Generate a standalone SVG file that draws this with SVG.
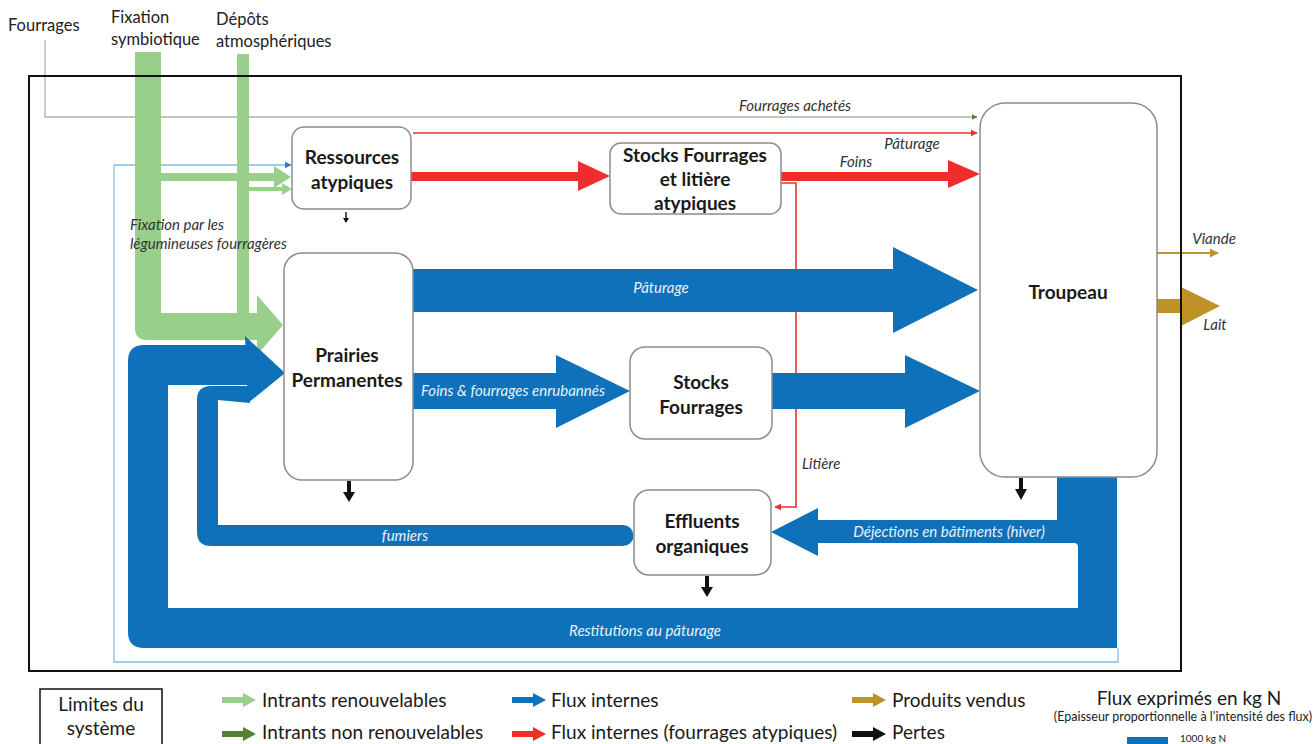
<svg xmlns="http://www.w3.org/2000/svg" width="1314" height="744" viewBox="0 0 1314 744">
<style>
.node{fill:#fff;stroke:#8c8c8c;stroke-width:1.5}
.nt{font-family:Lato,"Liberation Sans",sans-serif;font-weight:bold;font-size:19px;fill:#1a1a1a;text-anchor:middle}
.lb{font-family:Lato,"Liberation Sans",sans-serif;font-style:italic;font-size:15px;fill:#333}
.lw{font-family:Lato,"Liberation Sans",sans-serif;font-style:italic;font-size:15px;fill:#e8f1fa;text-anchor:middle}
.tp{font-family:Lato,"Liberation Sans",sans-serif;font-size:16.5px;fill:#222}
.lg{font-family:Lato,"Liberation Sans",sans-serif;font-size:19px;fill:#1a1a1a}
.blue{fill:#0f71b9}
.green{fill:#98cf8b}
.red{fill:#ef2d2d}
.gold{fill:#bf9228}
</style>
<defs>
<marker id="mg" viewBox="0 0 10 10" refX="9" refY="5" markerWidth="6" markerHeight="6" orient="auto" markerUnits="userSpaceOnUse"><path d="M0,0 L10,5 L0,10 Z" fill="#548235"/></marker>
<marker id="mr" viewBox="0 0 10 10" refX="9" refY="5" markerWidth="7" markerHeight="7" orient="auto" markerUnits="userSpaceOnUse"><path d="M0,0 L10,5 L0,10 Z" fill="#ef2d2d"/></marker>
<marker id="mb" viewBox="0 0 10 10" refX="9" refY="5" markerWidth="7" markerHeight="7" orient="auto" markerUnits="userSpaceOnUse"><path d="M0,0 L10,5 L0,10 Z" fill="#2e7dc4"/></marker>
<marker id="mo" viewBox="0 0 10 10" refX="9" refY="5" markerWidth="9" markerHeight="9" orient="auto" markerUnits="userSpaceOnUse"><path d="M0,0 L10,5 L0,10 Z" fill="#bf9228"/></marker>
<path id="la" d="M0,-3 H21 V-7 L34,0 L21,7 V3 H0 Z"/>
</defs>

<!-- top labels -->
<text class="tp" x="8" y="31">Fourrages</text>
<text class="tp" x="111" y="23">Fixation</text>
<text class="tp" x="111" y="45">symbiotique</text>
<text class="tp" x="216" y="25">Dépôts</text>
<text class="tp" x="216" y="47">atmosphériques</text>

<g id="connectors">
  <!-- Fourrages achetés -->
  <polyline points="45,40 45,117 977,117" fill="none" stroke="#a3bd9f" stroke-width="1.3" marker-end="url(#mg)"/>
  <text class="lb" x="795" y="111" text-anchor="middle">Fourrages achetés</text>

  <!-- thin blue system line -->
  <polyline points="1118,648 1118,662 114,662 114,165 291,165" fill="none" stroke="#7fbde8" stroke-width="1.3" marker-end="url(#mb)"/>

  <!-- green inputs -->
  <path class="green" d="M135,52 H161 V313 H237 V54 H249 V313 H257 V295 L283,325 L257,355 V340 H147 Q135,340 135,328 Z"/>
  <path class="green" d="M161,173 H274 V166 L291,177 L274,188 V181 H161 Z"/>
  <path class="green" d="M249,187 H282 V183 L292,189 L282,195 V191 H249 Z"/>
  <text class="lb" x="130" y="230">Fixation par les</text>
  <text class="lb" x="130" y="249">légumineuses fourragères</text>

  <!-- red flows -->
  <line x1="413" y1="133" x2="977" y2="133" stroke="#ef2d2d" stroke-width="1.6" marker-end="url(#mr)"/>
  <text class="lb" x="912" y="149" text-anchor="middle">Pâturage</text>
  <path class="red" d="M411,172 H578 V161 L610,176 L578,191 V181 H411 Z"/>
  <path class="red" d="M781,172 H948 V160 L980,174 L948,188 V181 H781 Z"/>
  <text class="lb" x="856" y="167" text-anchor="middle">Foins</text>
  <polyline points="781,183 796,183 796,507 775,507" fill="none" stroke="#ef2d2d" stroke-width="1.6" marker-end="url(#mr)"/>
  <text class="lb" x="802" y="469">Litière</text>

  <!-- blue flows -->
  <path class="blue" d="M413,269 H893 V247 L978,290 L893,333 V312 H413 Z"/>
  <text class="lw" x="661" y="293">Pâturage</text>
  <path class="blue" d="M413,373 H556 V355 L630,391 L556,428 V409 H413 Z"/>
  <text class="lw" x="513" y="396">Foins &amp; fourrages enrubannés</text>
  <path class="blue" d="M772,373 H905 V355 L980,391 L905,428 V409 H772 Z"/>

  <!-- Troupeau outflow, déjections, restitutions -->
  <rect class="blue" x="1057" y="476" width="60" height="46"/>
  <path class="blue" d="M1117,520 H818 V508 L771,532 L818,556 V543 H1074 Q1078,543 1078,547 V608 H1117 Z"/>
  <text class="lw" x="949" y="537">Déjections en bâtiments (hiver)</text>
  <path class="blue" d="M1078,520 H1117 V648 H144 Q128,648 128,632 V361 Q128,345 144,345 H250 V385 H168 V608 H1078 Z"/>
  <text class="lw" x="645" y="636">Restitutions au pâturage</text>
  <path class="blue" d="M218,400 V525 H623 A10.5,10.5 0 0 1 623,546 H211 Q197,546 197,532 V400 Q197,386 211,386 H250 V403 Z"/>
  <text class="lw" x="405" y="541">fumiers</text>
  <path class="blue" d="M245,336 L285,373 L248,403 Z"/>

  <!-- products -->
  <line x1="1157" y1="253" x2="1218" y2="253" stroke="#bf9228" stroke-width="2" marker-end="url(#mo)"/>
  <text class="lb" x="1214" y="244" text-anchor="middle">Viande</text>
  <path class="gold" d="M1157,299 H1181 V287 L1220,306 L1181,326 V313 H1157 Z"/>
  <text class="lb" x="1215" y="330" text-anchor="middle">Lait</text>

  <!-- losses -->
  <path d="M345.3,212 H346.7 V218 H349 L346,223 L343,218 H345.3 Z" fill="#111"/>
  <path d="M347,481 H351 V492 H355 L349,502 L343,492 H347 Z" fill="#111"/>
  <path d="M705,576 H709 V587 H713 L707,597 L701,587 H705 Z" fill="#111"/>
  <path d="M1019,478 H1023 V489 H1027 L1021,500 L1015,489 H1019 Z" fill="#111"/>
</g>

<!-- system boundary -->
<rect x="29" y="76" width="1152" height="595" fill="none" stroke="#111" stroke-width="2"/>

<g id="ressources">
  <rect class="node" x="292" y="127" width="119" height="82" rx="12"/>
  <text class="nt" x="352" y="164">Ressources</text>
  <text class="nt" x="352" y="189">atypiques</text>
</g>
<g id="stocks-atypiques">
  <rect class="node" x="610" y="143" width="171" height="71" rx="11"/>
  <text class="nt" x="695" y="162">Stocks Fourrages</text>
  <text class="nt" x="695" y="186">et litière</text>
  <text class="nt" x="695" y="210">atypiques</text>
</g>
<g id="prairies">
  <rect class="node" x="284" y="253" width="129" height="227" rx="18"/>
  <text class="nt" x="347" y="362">Prairies</text>
  <text class="nt" x="347" y="387">Permanentes</text>
</g>
<g id="stocks-fourrages">
  <rect class="node" x="630" y="347" width="142" height="92" rx="15"/>
  <text class="nt" x="701" y="389">Stocks</text>
  <text class="nt" x="701" y="414">Fourrages</text>
</g>
<g id="effluents">
  <rect class="node" x="634" y="490" width="137" height="85" rx="15"/>
  <text class="nt" x="702" y="528">Effluents</text>
  <text class="nt" x="702" y="553">organiques</text>
</g>
<g id="troupeau">
  <rect class="node" x="980" y="103" width="177" height="374" rx="25"/>
  <text class="nt" x="1068" y="299">Troupeau</text>
</g>

<g id="legend">
  <rect x="40" y="689" width="122" height="60" fill="#fff" stroke="#111" stroke-width="1.5"/>
  <text class="lg" x="101" y="711" text-anchor="middle" font-size="18">Limites du</text>
  <text class="lg" x="101" y="735" text-anchor="middle" font-size="18">système</text>
  <use href="#la" x="222" y="700" fill="#98cf8b"/>
  <text class="lg" x="262" y="707">Intrants renouvelables</text>
  <use href="#la" x="222" y="734" fill="#548235"/>
  <text class="lg" x="262" y="739">Intrants non renouvelables</text>
  <use href="#la" x="512" y="700" fill="#0f71b9"/>
  <text class="lg" x="551" y="707">Flux internes</text>
  <use href="#la" x="512" y="734" fill="#ef2d2d"/>
  <text class="lg" x="551" y="739">Flux internes (fourrages atypiques)</text>
  <use href="#la" x="852" y="700" fill="#bf9228"/>
  <text class="lg" x="892" y="707">Produits vendus</text>
  <use href="#la" x="852" y="734" fill="#111"/>
  <text class="lg" x="892" y="739">Pertes</text>
  <text class="lg" x="1189" y="705" text-anchor="middle" font-size="19.5">Flux exprimés en kg N</text>
  <text x="1183" y="721" text-anchor="middle" font-family="Lato,'Liberation Sans',sans-serif" font-size="12.5" fill="#222">(Epaisseur proportionnelle à l’intensité des flux)</text>
  <rect x="1127" y="737" width="41" height="8" fill="#0f71b9"/>
  <text x="1180" y="742" font-family="Lato,'Liberation Sans',sans-serif" font-size="10" fill="#222">1000 kg N</text>
</g>
</svg>
